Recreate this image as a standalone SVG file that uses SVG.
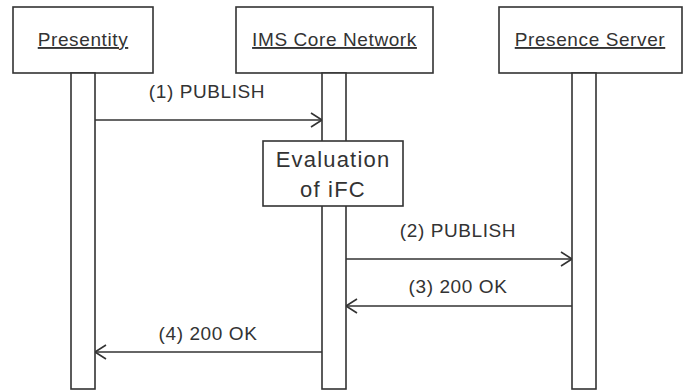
<svg xmlns="http://www.w3.org/2000/svg" width="684" height="391" viewBox="0 0 684 391">
<style>
.box{fill:#fff;stroke:#333;stroke-width:1.6}
.bar{fill:#fff;stroke:#333;stroke-width:1.6}
.t{font-family:"Liberation Sans",Arial,sans-serif;font-size:19px;fill:#333;text-anchor:middle;letter-spacing:0.6px}
.u{text-decoration:underline}
.ev{font-family:"Liberation Sans",Arial,sans-serif;font-size:22px;fill:#333;text-anchor:middle;letter-spacing:1.2px}
.msg{stroke:#333;stroke-width:1.6;fill:none}
</style>
<defs>
<marker id="ah" viewBox="0 0 12 16" refX="12" refY="8" markerWidth="12" markerHeight="16" markerUnits="userSpaceOnUse" orient="auto">
<path d="M1,1 L12,8 L1,15" fill="none" stroke="#333" stroke-width="1.6"/>
</marker>
</defs>
<g id="presentity">
<rect class="box" x="13" y="7" width="140" height="66"/>
<text class="t u" x="83" y="46">Presentity</text>
<rect class="bar" x="71" y="73" width="24" height="316"/>
</g>
<g id="ims">
<rect class="box" x="236" y="7" width="197" height="66"/>
<text class="t u" x="334.5" y="46">IMS Core Network</text>
<rect class="bar" x="322" y="73" width="24" height="316"/>
</g>
<g id="presence">
<rect class="box" x="499" y="7" width="183" height="66"/>
<text class="t u" x="590" y="46">Presence Server</text>
<rect class="bar" x="572" y="73" width="24" height="316"/>
</g>
<g id="evaluation">
<rect class="box" x="263" y="141" width="140" height="65"/>
<text class="ev" x="333" y="167">Evaluation</text>
<text class="ev" x="333" y="197">of iFC</text>
</g>
<g id="connectors">
<line class="msg" x1="95" y1="120" x2="322" y2="120" marker-end="url(#ah)"/>
<text class="t" x="207" y="98">(1) PUBLISH</text>
<line class="msg" x1="346" y1="259" x2="572" y2="259" marker-end="url(#ah)"/>
<text class="t" x="458" y="237">(2) PUBLISH</text>
<line class="msg" x1="572" y1="306" x2="346" y2="306" marker-end="url(#ah)"/>
<text class="t" x="458" y="293">(3) 200 OK</text>
<line class="msg" x1="322" y1="352" x2="95" y2="352" marker-end="url(#ah)"/>
<text class="t" x="208" y="340">(4) 200 OK</text>
</g>
</svg>
